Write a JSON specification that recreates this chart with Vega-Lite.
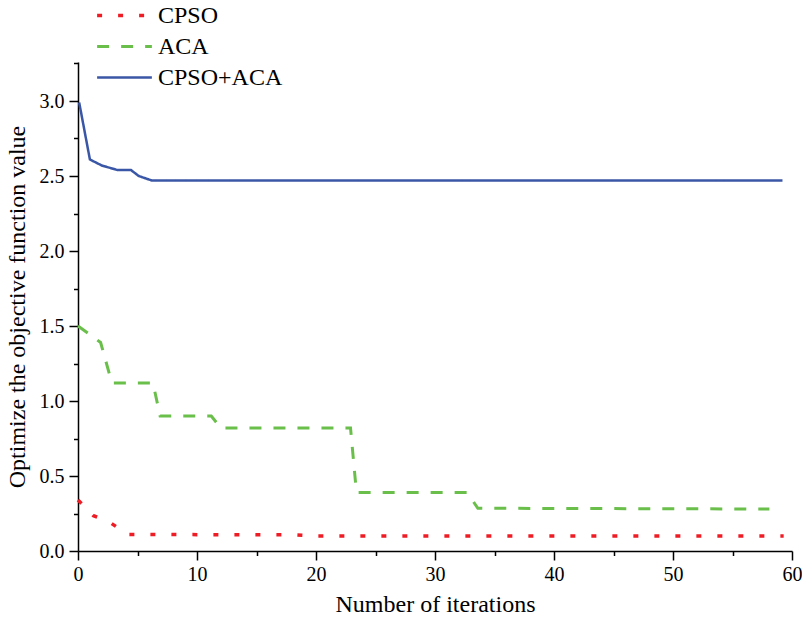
{
  "$schema": "https://vega.github.io/schema/vega-lite/v6.json",
  "width": 714,
  "height": 489,
  "autosize": "none",
  "padding": {"left": 78, "top": 62, "right": 10, "bottom": 74},
  "background": "white",
  "config": {
    "view": {"stroke": null},
    "font": "Liberation Serif",
    "axis": {
      "domainColor": "black",
      "domainWidth": 1.5,
      "tickColor": "black",
      "tickWidth": 1.5,
      "grid": false,
      "labelFlush": false,
      "labelFont": "Liberation Serif",
      "labelFontSize": 20,
      "labelColor": "black",
      "titleFont": "Liberation Serif",
      "titleFontSize": 24,
      "titleFontWeight": "normal",
      "titleColor": "black"
    }
  },
  "data": {
    "values": [
      {"series": "CPSO+ACA", "x": 0.1, "y": 2.99},
      {"series": "CPSO+ACA", "x": 1.0, "y": 2.61},
      {"series": "CPSO+ACA", "x": 2.0, "y": 2.57},
      {"series": "CPSO+ACA", "x": 3.3, "y": 2.54},
      {"series": "CPSO+ACA", "x": 4.45, "y": 2.54},
      {"series": "CPSO+ACA", "x": 5.1, "y": 2.5},
      {"series": "CPSO+ACA", "x": 6.2, "y": 2.47},
      {"series": "CPSO+ACA", "x": 59.2, "y": 2.47},
      {"series": "ACA", "x": 0.0, "y": 1.5},
      {"series": "ACA", "x": 1.9, "y": 1.39},
      {"series": "ACA", "x": 2.85, "y": 1.12},
      {"series": "ACA", "x": 6.3, "y": 1.12},
      {"series": "ACA", "x": 6.9, "y": 0.9},
      {"series": "ACA", "x": 11.2, "y": 0.9},
      {"series": "ACA", "x": 12.0, "y": 0.82},
      {"series": "ACA", "x": 22.9, "y": 0.82},
      {"series": "ACA", "x": 23.4, "y": 0.39},
      {"series": "ACA", "x": 32.7, "y": 0.39},
      {"series": "ACA", "x": 33.6, "y": 0.285},
      {"series": "ACA", "x": 58.1, "y": 0.28},
      {"series": "CPSO", "x": 0.0, "y": 0.34},
      {"series": "CPSO", "x": 1.3, "y": 0.235},
      {"series": "CPSO", "x": 2.6, "y": 0.195},
      {"series": "CPSO", "x": 4.2, "y": 0.11},
      {"series": "CPSO", "x": 18.0, "y": 0.108},
      {"series": "CPSO", "x": 20.0, "y": 0.1},
      {"series": "CPSO", "x": 59.3, "y": 0.1}
    ]
  },
  "layer": [
    {
      "mark": {"type": "line", "opacity": 0},
      "encoding": {
        "x": {
          "field": "x",
          "type": "quantitative",
          "scale": {"domain": [0, 60], "nice": false, "zero": false},
          "axis": {
            "orient": "bottom",
            "title": null,
            "values": [5, 15, 25, 35, 45, 55],
            "labels": false,
            "domain": false,
            "tickSize": 4.5
          }
        },
        "y": {
          "field": "y",
          "type": "quantitative",
          "scale": {"domain": [0, 3.26], "nice": false},
          "axis": {
            "orient": "left",
            "title": null,
            "values": [0.25, 0.75, 1.25, 1.75, 2.25, 2.75, 3.25],
            "labels": false,
            "domain": false,
            "tickSize": 4.5
          }
        }
      }
    },
    {
      "mark": {"type": "line", "clip": false},
      "encoding": {
        "x": {
          "field": "x",
          "type": "quantitative",
          "scale": {"domain": [0, 60], "nice": false, "zero": false},
          "axis": {
            "orient": "bottom",
            "title": "Number of iterations",
            "values": [0, 10, 20, 30, 40, 50, 60],
            "tickSize": 9,
            "labelPadding": 4,
            "titlePadding": 8
          }
        },
        "y": {
          "field": "y",
          "type": "quantitative",
          "scale": {"domain": [0, 3.26], "nice": false},
          "axis": {
            "orient": "left",
            "title": "Optimize the objective function value",
            "values": [0, 0.5, 1, 1.5, 2, 2.5, 3],
            "format": ".1f",
            "tickSize": 9,
            "labelPadding": 5,
            "titlePadding": 10
          }
        },
        "color": {
          "field": "series",
          "type": "nominal",
          "scale": {"domain": ["CPSO", "ACA", "CPSO+ACA"], "range": ["#ee1c25", "#6abf4b", "#3a56a6"]},
          "legend": {
            "title": null,
            "orient": "none",
            "legendX": 17,
            "legendY": -62,
            "symbolType": "stroke",
            "symbolSize": 3000,
            "symbolStrokeWidth": 3,
            "clipHeight": 31,
            "labelFont": "Liberation Serif",
            "labelFontSize": 24,
            "labelColor": "black",
            "labelOffset": 4,
            "rowPadding": 0
          }
        },
        "strokeDash": {
          "field": "series",
          "type": "nominal",
          "scale": {"domain": ["CPSO", "ACA", "CPSO+ACA"], "range": [[5, 16], [12, 12], [1, 0]]},
          "legend": null
        },
        "strokeWidth": {
          "field": "series",
          "type": "nominal",
          "scale": {"domain": ["CPSO", "ACA", "CPSO+ACA"], "range": [3.5, 2.5, 2.5]},
          "legend": null
        }
      }
    }
  ],
  "resolve": {"axis": {"x": "independent", "y": "independent"}}
}
